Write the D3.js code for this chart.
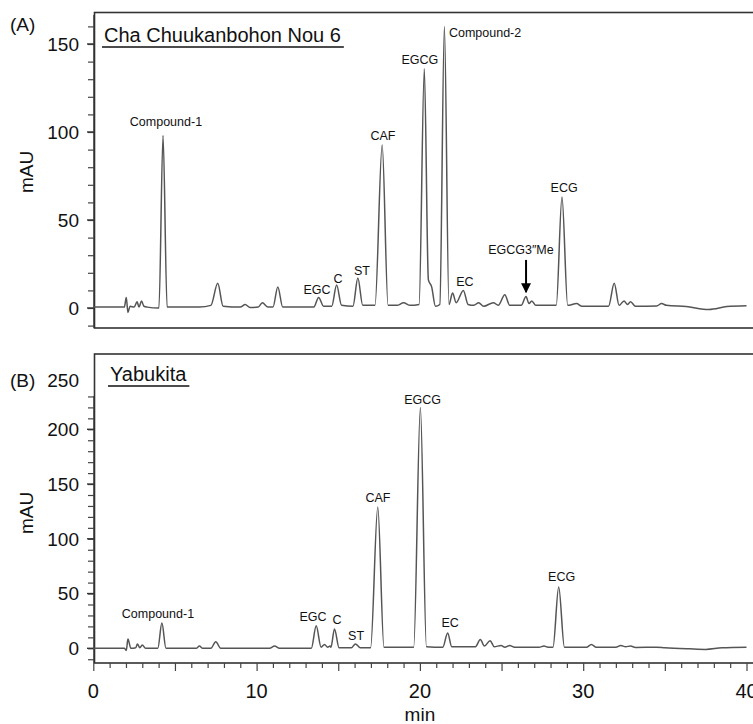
<!DOCTYPE html>
<html><head><meta charset="utf-8">
<script src="https://cdn.jsdelivr.net/npm/d3@7"></script>
<style>body{margin:0;background:#fff}text{font-family:"Liberation Sans",Arial,Helvetica,sans-serif;fill:#111}</style>
</head><body><svg id="c" width="753" height="724"></svg>
<script>
// ---- data ----
const timeTickLabels = [0, 10, 20, 30, 40];
const yTickLabelsA = [0, 50, 100, 150];
const yTickLabelsB = [0, 50, 100, 150, 200, 250];

// Panel A: Cha Chuukanbohon Nou 6 — [min, mAU]
const traceA = [
  [0,0.5],[1.9,0.5],[2.02,6],[2.12,-2.5],[2.25,1],[2.5,0.5],[2.68,3.5],[2.8,0.5],[2.95,4],[3.1,1],[3.3,0.5],
  [4.02,0],[4.27,98],[4.52,0.5],[6.5,0.5],[7.2,1.5],[7.62,14],[7.95,1],[9.0,0.5],[9.3,2],[9.6,0.3],
  [10.1,0.5],[10.35,3],[10.7,0.5],[11.0,0.5],[11.3,12],[11.6,0.5],[13.5,0.5],[13.8,6],[14.1,1],
  [14.6,1],[14.9,13],[15.2,1.5],[15.9,1],[16.2,17],[16.5,1.5],[17.25,1.5],[17.69,92.6],[18.05,1.5],
  [18.6,1.5],[19.0,3],[19.4,1.5],[19.95,2],[20.27,136],[20.52,16],[20.72,12],[20.95,1],[21.22,2],
  [21.5,160],[21.78,2],[22.0,8.5],[22.22,3],[22.66,10],[22.95,2],[23.3,1.5],[23.6,3],[23.9,1],
  [24.5,3],[24.8,1.5],[25.2,7.5],[25.5,1.5],[26.2,1.5],[26.5,6.5],[26.68,2.5],[26.85,4],[27.1,1.5],
  [28.35,1.5],[28.7,63],[29.05,1.5],[29.6,2.5],[29.9,1],[31.55,1],[31.9,14],[32.2,1.5],[32.5,4],
  [32.7,2],[32.9,3.5],[33.2,1],[34.5,1.2],[34.8,2.5],[35.1,1.5],[36.3,0.8],[37.7,-0.8],[38.8,0.8],[40,1.3]
];
// Panel B: Yabukita — [min, mAU]
const traceB = [
  [0,0],[1.9,0],[2.02,-2],[2.12,8.5],[2.3,0],[2.6,0.5],[2.7,4],[2.85,0.5],[3.0,3],[3.2,0],
  [3.95,0],[4.2,23],[4.45,0],[6.3,0],[6.5,2],[6.7,0],[7.2,0],[7.5,6],[7.8,0],[10.8,0],[11.1,2],[11.4,0],
  [13.35,0],[13.65,20.5],[13.95,1],[14.16,3.5],[14.35,1],[14.5,2],[14.55,1],[14.77,17.7],[15.05,0.5],
  [15.8,0.5],[16.05,4],[16.35,0.5],[16.98,0.5],[17.42,129],[17.8,1],[19.62,1],[20.03,220],[20.4,1.5],
  [21.4,1],[21.7,14],[21.95,1.5],[23.4,1.5],[23.7,8],[23.95,2],[24.3,7],[24.55,1.5],[24.97,2.5],
  [25.2,1],[25.5,2.5],[25.8,1],[27.3,1],[27.6,2],[27.85,1],[28.15,1],[28.5,56],[28.85,1],[30.2,1],
  [30.5,3.5],[30.8,1],[32.0,1],[32.3,2.5],[32.6,1.5],[32.9,2],[33.2,0.8],[34.5,1],[35,0.5],
  [36.5,-0.5],[37.5,-1],[38.5,0.5],[40,1]
];
// peak labels: name, label anchor [min, mAU]
const labelsA = [
  ["Compound-1",4.45,103.4,"middle"],["EGC",13.7,8,"middle"],["C",14.98,14.2,"middle"],
  ["ST",16.45,18.75,"middle"],["CAF",17.74,95.5,"middle"],["EGCG",20.0,138.6,"middle"],
  ["Compound-2",21.78,154,"start"],["EC",22.76,12.5,"middle"],["EGCG3\u2033Me",26.19,30.7,"middle"],
  ["ECG",28.83,65.9,"middle"]
];
const labelsB = [
  ["Compound-1",3.96,27.7,"middle"],["EGC",13.45,25.2,"middle"],["C",14.92,22.2,"middle"],
  ["ST",16.09,7.6,"middle"],["CAF",17.43,133.9,"middle"],["EGCG",20.17,223,"middle"],
  ["EC",21.85,19.7,"middle"],["ECG",28.68,61.7,"middle"]
];
const arrowA = [[26.5,27.3],[26.5,9]];

// ---- drawing ----
const svg = d3.select("#c");
const x = d3.scaleLinear().domain([0,40]).range([93.3,746.5]);
const yA = d3.scaleLinear().domain([0,150]).range([308,44]);
const yB = d3.scaleLinear().domain([0,200]).range([648.3,429.3]);

svg.append("defs").append("marker").attr("id","ah").attr("viewBox","0 0 10 10")
  .attr("refX",9).attr("refY",5).attr("markerWidth",5).attr("markerHeight",5)
  .attr("orient","auto").append("path").attr("d","M0,0L10,5L0,10Z").attr("fill","#000");

function panel(cfg){
  const g = svg.append("g");
  // frame
  g.append("rect").attr("x",94.5).attr("y",cfg.top).attr("width",700).attr("height",cfg.bottom-cfg.top)
    .attr("fill","none").attr("stroke","#333").attr("stroke-width",1.6);
  // y axis minor ticks
  const minor = d3.range(cfg.tmin, cfg.tmax+1, 10);
  const ya = d3.axisLeft(cfg.y).tickValues(minor).tickSize(6).tickFormat("");
  const ag = g.append("g").attr("transform","translate(94,0)").call(ya);
  ag.select(".domain").attr("d",`M0,${cfg.axisTop}V${cfg.bottom}`).attr("stroke","#333").attr("stroke-width",1.4);
  ag.selectAll(".tick line").attr("stroke","#444").attr("stroke-width",1.2);
  // y labels
  g.selectAll(".yl").data(cfg.labels).join("text")
    .attr("x",79).attr("y",d=>cfg.y(d)+ (d===250?6:0)).attr("dy","0.36em")
    .attr("text-anchor","end").attr("font-size",19).text(d=>d);
  g.selectAll(".ymaj").data(cfg.labels.filter(d=>d<=cfg.tmax)).join("line")
    .attr("x1",87).attr("x2",94).attr("y1",d=>cfg.y(d)).attr("y2",d=>cfg.y(d))
    .attr("stroke","#333").attr("stroke-width",1.4);
  // axis title
  g.append("text").attr("transform",`translate(33,${cfg.mauY}) rotate(-90)`)
    .attr("text-anchor","middle").attr("font-size",19).text("mAU");
  // panel tag & title
  g.append("text").attr("x",10).attr("y",cfg.tagY).attr("font-size",19).text(cfg.tag);
  const tt = g.append("text").attr("x",cfg.titleX).attr("y",cfg.titleY).attr("font-size",20).text(cfg.title);
  const w = tt.node().getComputedTextLength();
  g.append("line").attr("x1",cfg.titleX-2).attr("x2",cfg.titleX+w+3)
    .attr("y1",cfg.titleY+5).attr("y2",cfg.titleY+5).attr("stroke","#111").attr("stroke-width",1.4);
  // trace
  const line = d3.line().x(d=>x(d[0])).y(d=>cfg.y(d[1])).curve(d3.curveMonotoneX);
  g.append("path").datum(cfg.trace).attr("d",line).attr("fill","none")
    .attr("stroke","#555").attr("stroke-width",1.5).attr("stroke-linejoin","round");
  // labels
  g.selectAll(".pl").data(cfg.peaks).join("text")
    .attr("x",d=>x(d[1])).attr("y",d=>cfg.y(d[2])).attr("text-anchor",d=>d[3])
    .attr("font-size",12.5).text(d=>d[0]);
  return g;
}

panel({top:12.5,bottom:328,axisTop:15,y:yA,tmin:-10,tmax:160,labels:yTickLabelsA,
  mauY:172,tag:"(A)",tagY:31,title:"Cha Chuukanbohon Nou 6",titleX:104,titleY:42,
  trace:traceA,peaks:labelsA});
panel({top:354,bottom:663,axisTop:396,y:yB,tmin:-10,tmax:230,labels:yTickLabelsB,
  mauY:513,tag:"(B)",tagY:387,title:"Yabukita",titleX:110,titleY:381,
  trace:traceB,peaks:labelsB});

// arrow in A
svg.append("line").attr("x1",x(arrowA[0][0])).attr("y1",yA(arrowA[0][1]))
  .attr("x2",x(arrowA[1][0])).attr("y2",yA(arrowA[1][1]))
  .attr("stroke","#000").attr("stroke-width",2).attr("marker-end","url(#ah)");

// x axis on B
const xa = d3.axisBottom(x).tickValues(d3.range(0,41,1)).tickSize(5).tickFormat("");
const xg = svg.append("g").attr("transform","translate(0,663)").call(xa);
xg.select(".domain").remove();
xg.selectAll(".tick line").attr("stroke","#444").attr("stroke-width",1.2)
  .attr("y2",d=>d%5===0?8:5);
svg.selectAll(".xl").data(timeTickLabels).join("text")
  .attr("x",d=>x(d)).attr("y",698).attr("text-anchor","middle").attr("font-size",20).text(d=>d);
svg.append("text").attr("x",x(20)).attr("y",721).attr("text-anchor","middle").attr("font-size",19).text("min");
</script></body></html>
